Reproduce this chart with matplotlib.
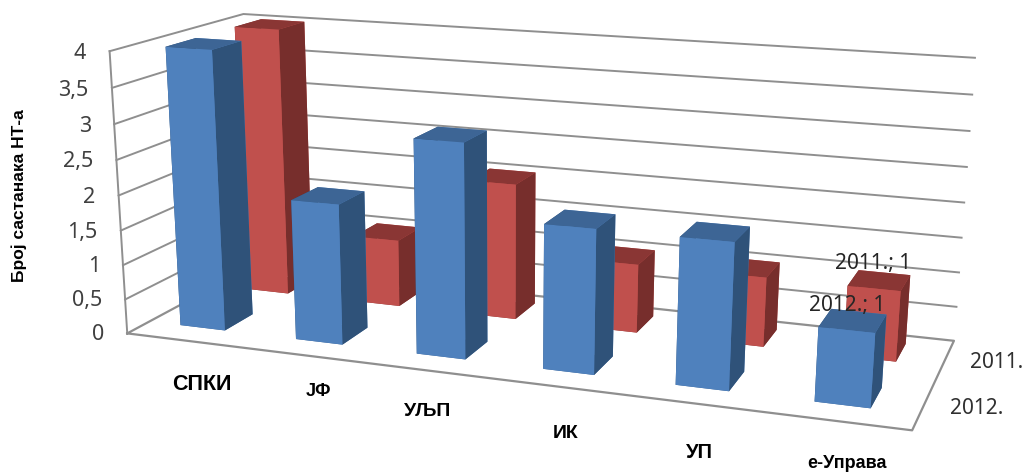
import numpy as np
import matplotlib
matplotlib.use('Agg')
from matplotlib import pyplot as plt
from mpl_toolkits.mplot3d import Axes3D

categories = ['СПКИ', 'ЈФ', 'УЉП', 'ИК', 'УП', 'е-Управа']
values_2012 = [4, 2, 3, 2, 2, 1]
values_2011 = [4, 1, 2, 1, 1, 1]
z_ticks = [0, 0.5, 1, 1.5, 2, 2.5, 3, 3.5, 4]
z_labels = ['0', '0,5', '1', '1,5', '2', '2,5', '3', '3,5', '4']
series_names = ['2012.', '2011.']

W, H = 1024, 475
plt.rcParams['font.family'] = ['Noto Sans', 'DejaVu Sans']
bold_font = ['Liberation Sans', 'DejaVu Sans']

# camera: box corners (x, y, z) and where they land in the picture
world = np.array([(0, 0, 0), (6, 0, 0), (6, 1, 0), (0, 1, 0), (0, 0, 4), (0, 1, 4), (6, 1, 4)], float)
pixel = np.array([(127, 333), (912, 431), (954, 340), (254, 266), (110, 51), (243, 14), (975, 58)], float)

A, b = [], []
for (X, Y, Z), (u, v) in zip(world, pixel):
    A.append([X, Y, Z, 1, 0, 0, 0, 0, -u*X, -u*Y, -u*Z])
    A.append([0, 0, 0, 0, X, Y, Z, 1, -v*X, -v*Y, -v*Z])
    b += [u, v]
p = np.linalg.lstsq(np.array(A), np.array(b), rcond=None)[0]
P = np.append(p, 1).reshape(3, 4)

fig = plt.figure(figsize=(W/100, H/100), dpi=100)
ax = fig.add_axes([0, 0, 1, 1], projection='3d')
ax.set_axis_off()
ax.set_xticks([])
ax.set_yticks([])
ax.set_zticks([])
ax.computed_zorder = False
ax.apply_aspect = lambda position=None: None


def get_proj():
    # pixels of the picture -> the 2D limits of the 3D axes
    inv = ax.transData.inverted()
    (x0, y0), (x1, y1) = inv.transform([(0, H), (W, 0)])
    sx, sy = (x1 - x0)/W, (y1 - y0)/H
    row_x = sx*P[0] + x0*P[2]
    row_y = sy*P[1] + y0*P[2]
    # depth stays negative everywhere, lines with positive depth get dropped
    row_z = P[2] - np.array([0, 0, 0, 3.0])
    return np.array([row_x, row_y, row_z, P[2]])


ax.get_proj = get_proj

grid = '#8f8f8f'
for z in z_ticks[1:]:
    ax.plot([0, 0, 6], [0, 1, 1], [z, z, z], color=grid, lw=1.4, zorder=1)
ax.plot([0, 6, 6, 0, 0], [0, 0, 1, 1, 0], [0, 0, 0, 0, 0], color=grid, lw=1.6, zorder=1)
ax.plot([0, 0], [0, 0], [0, 4], color=grid, lw=1.4, zorder=1)

bar_w = 0.39
depth = 0.22
offset = 0.47
# face order of bar3d: bottom, top, front, back, left, right
blue = ['#3d6595', '#3d6595', '#4f81bd', '#4f81bd', '#2f5279', '#2f5279']
red = ['#8a3634', '#8a3634', '#c0504d', '#c0504d', '#772e2c', '#772e2c']

for i, v in enumerate(values_2011):
    ax.bar3d(i + offset - bar_w/2, 0.68, 0, bar_w, depth, v, color=red, shade=False, zorder=3 + i*0.01)
for i, v in enumerate(values_2012):
    ax.bar3d(i + offset - bar_w/2, 0.16, 0, bar_w, depth, v, color=blue, shade=False, zorder=4 + i*0.01)

# z tick labels sit just left of the front edge of the left wall
for z, lab in zip(z_ticks, z_labels):
    h = P @ np.array([-0.2, 0, z, 1])
    px, py = h[0]/h[2], h[1]/h[2] + 4
    fig.text(px/W, 1 - py/H, lab, ha='right', va='center', fontsize=15.5, color='#404040', zorder=6)

fig.text(873/W, 1 - 264/H, '%s; %d' % (series_names[1], values_2011[5]), ha='center', va='center',
         fontsize=15, color='#262626', zorder=6)
fig.text(847/W, 1 - 305/H, '%s; %d' % (series_names[0], values_2012[5]), ha='center', va='center',
         fontsize=15, color='#262626', zorder=6)

fig.text(977/W, 1 - 408/H, series_names[0], ha='center', va='center', fontsize=15, color='#303030')
fig.text(997/W, 1 - 362/H, series_names[1], ha='center', va='center', fontsize=15, color='#303030')

fig.text(19/W, 1 - 196/H, 'Број састанака НТ-а', rotation=90, ha='center', va='center', fontsize=12.5,
         fontweight='bold', family=bold_font, color='black')

cat_xy = [(202, 385), (318, 392), (428, 412), (566, 434), (699, 452), (847, 463)]
cat_size = [15.5, 13, 14, 14, 14.5, 13]
for name, (px, py), s in zip(categories, cat_xy, cat_size):
    fig.text(px/W, 1 - py/H, name, ha='center', va='center', fontsize=s, fontweight='bold',
             family=bold_font, color='black')

fig.savefig('out.png', dpi=100)
